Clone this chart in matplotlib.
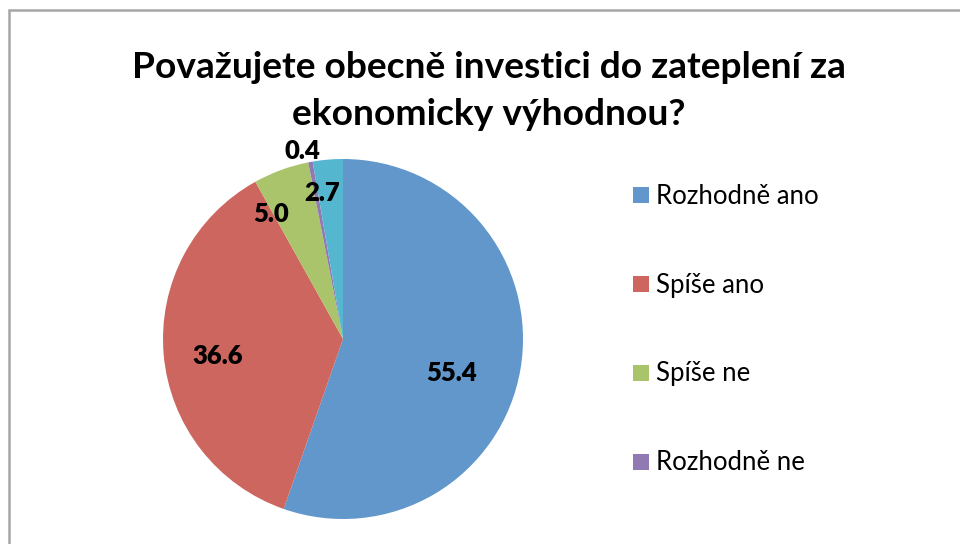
import numpy as np
import matplotlib
matplotlib.use("Agg")
import matplotlib.pyplot as plt
from matplotlib.patches import Rectangle

plt.rcParams['font.family'] = ['Lato', 'DejaVu Sans']

title = "Považujete obecně investici do zateplení za\nekonomicky výhodnou?"
categories = ["Rozhodně ano", "Spíše ano", "Spíše ne", "Rozhodně ne", "Nevím"]
values = [55.4, 36.6, 5.0, 0.4, 2.7]
colors = ["#6197CB", "#CD665F", "#A9C46B", "#917AB2", "#55B6D0"]

# where each label sits: radius (fraction of pie radius) and angle shift from wedge middle
label_r = [0.63, 0.70, 0.80, 1.07, 0.82]
label_shift = [-7.6, 3.0, 9.6, 1.6, 3.3]

W, H = 960, 544
fig = plt.figure(figsize=(W / 100, H / 100), dpi=100)

# chart frame (right and bottom edges are off the picture)
fig.patches.append(Rectangle((8.5 / W, -0.1), 1.2, 1 - 10.5 / H + 0.1,
                             transform=fig.transFigure, fill=False,
                             edgecolor="#A6A6A6", linewidth=1.8))

cx, cy, r = 343, 339, 180
ax = fig.add_axes([(cx - r) / W, 1 - (cy + r) / H, 2 * r / W, 2 * r / H])
wedges, _ = ax.pie(values, colors=colors, startangle=90, counterclock=False,
                   radius=1, wedgeprops=dict(linewidth=0))
ax.set_xlim(-1, 1)
ax.set_ylim(-1, 1)
ax.set_aspect("equal")
ax.axis("off")

for w, v, lr, sh in zip(wedges, values, label_r, label_shift):
    mid = np.deg2rad((w.theta1 + w.theta2) / 2 + sh)
    ax.text(lr * np.cos(mid), lr * np.sin(mid), f"{v:.1f}", ha="center", va="center",
            fontsize=18.5, fontweight="heavy", color="black", clip_on=False)

fig.text(489 / W, 1 - 91 / H, title, ha="center", va="center", fontsize=26.7,
         fontweight="bold", linespacing=1.5)

# legend drawn by hand; the last entry falls below the picture in the original
for i, (lab, col) in enumerate(zip(categories, colors)):
    y = 195 + 89 * i
    if y + 12 > H:
        continue
    fig.patches.append(Rectangle((633 / W, 1 - (y + 8) / H), 16 / W, 16 / H,
                                 transform=fig.transFigure, facecolor=col,
                                 edgecolor="none"))
    fig.text(656 / W, 1 - (y + 1) / H, lab, ha="left", va="center", fontsize=18.5)

fig.savefig("out.png", dpi=100)
